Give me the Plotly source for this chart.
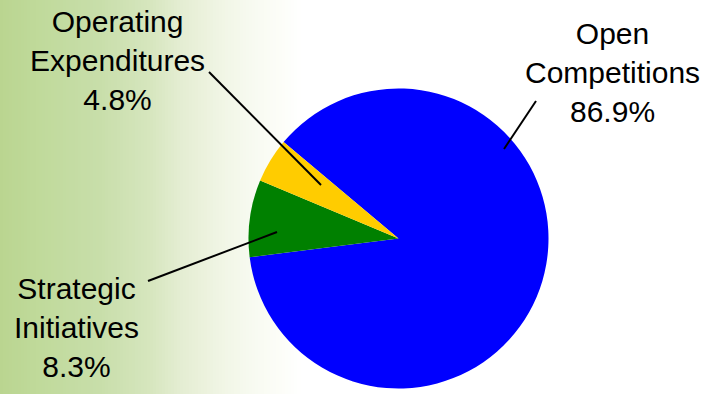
import plotly.graph_objects as go
import numpy as np

# ---- data ----
categories = ["Open Competitions", "Strategic Initiatives", "Operating Expenditures"]
shares = [86.9, 8.3, 4.8]
slice_colors = ["#0000FF", "#008000", "#FFCC00"]
label_texts = ["Open<br>Competitions<br>86.9%", "Strategic<br>Initiatives<br>8.3%",
               "Operating<br>Expenditures<br>4.8%"]

W, H = 708, 394

def px(x):
    return x / W

def py(y):
    return 1 - y / H

fig = go.Figure()
fig.add_trace(go.Pie(
    labels=categories,
    values=shares,
    sort=False,
    direction="clockwise",
    rotation=310,
    marker=dict(colors=slice_colors, line=dict(width=0)),
    textinfo="none",
    hoverinfo="label+percent",
    showlegend=False,
    domain=dict(x=[px(248.5), px(548.5)], y=[py(388.5), py(88.5)]),
))

# ---- background gradient (decorative) ----
anchors_x = [0, 40, 100, 150, 180, 220, 250, 280, 300]
anchors_c = [(186, 213, 144), (192, 218, 155), (200, 222, 170), (214, 230, 190),
             (228, 237, 210), (240, 245, 228), (247, 250, 240), (252, 253, 248), (255, 255, 255)]
shapes = []
step = 3
for x0 in range(0, 300, step):
    xc = x0 + step / 2
    c = [int(round(np.interp(xc, anchors_x, [a[i] for a in anchors_c]))) for i in range(3)]
    shapes.append(dict(type="rect", xref="paper", yref="paper",
                       x0=px(x0), x1=px(x0 + step + 0.5), y0=0, y1=1,
                       fillcolor=f"rgb({c[0]},{c[1]},{c[2]})", line=dict(width=0),
                       layer="below"))

# ---- leader lines ----
leaders = [((536, 101), (504, 149)), ((148, 281), (277, 232)), ((209, 72), (321, 185))]
for (a, b) in leaders:
    shapes.append(dict(type="line", xref="paper", yref="paper",
                       x0=px(a[0]), y0=py(a[1]), x1=px(b[0]), y1=py(b[1]),
                       line=dict(color="black", width=2), layer="above"))

label_pos = [(612, 72), (76, 327), (117, 61)]
annotations = []
for t, (x, y) in zip(label_texts, label_pos):
    annotations.append(dict(text=t, x=px(x), y=py(y), xref="paper", yref="paper",
                            showarrow=False, xanchor="center", yanchor="middle",
                            align="center",
                            font=dict(family="Liberation Sans, Arial, sans-serif", size=30,
                                      color="black")))

fig.update_layout(
    width=W, height=H,
    margin=dict(l=0, r=0, t=0, b=0),
    paper_bgcolor="white",
    plot_bgcolor="white",
    shapes=shapes,
    annotations=annotations,
)

fig.write_html("out.html")
